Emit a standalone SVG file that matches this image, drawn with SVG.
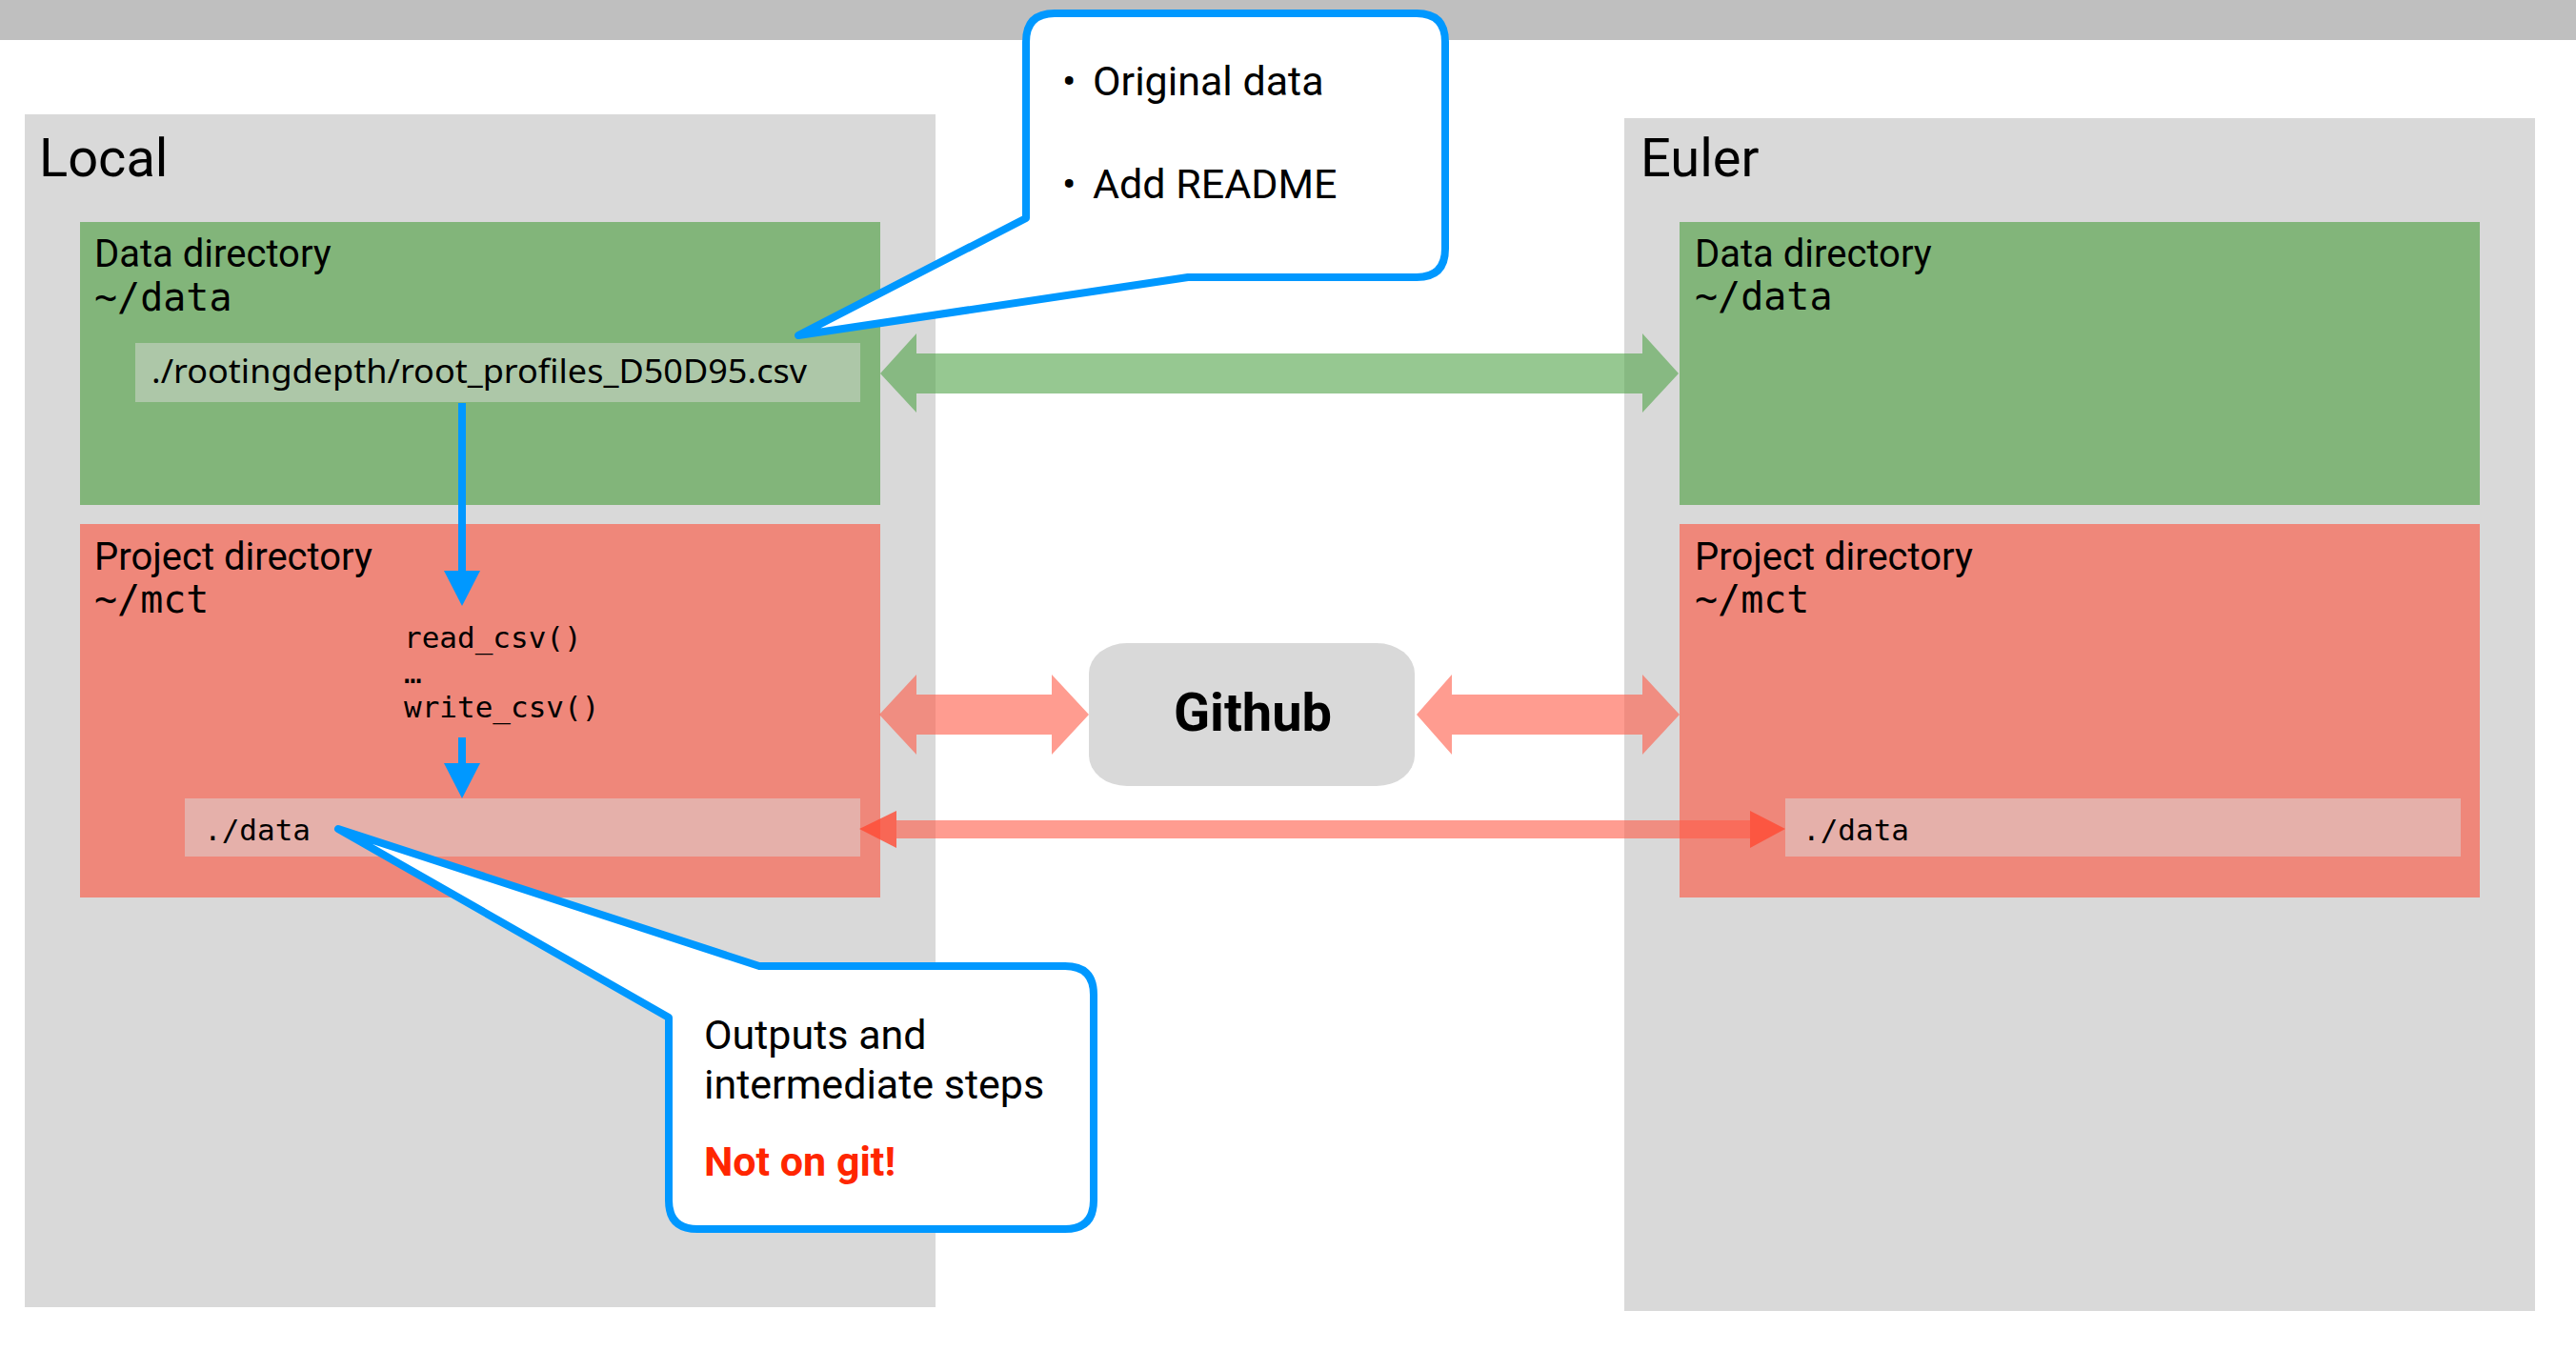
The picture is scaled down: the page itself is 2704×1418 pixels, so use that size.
<svg xmlns="http://www.w3.org/2000/svg" width="2704" height="1418" viewBox="0 0 2704 1418">
<style>
.h1{font-family:Roboto,"Liberation Sans",sans-serif;font-size:56px;fill:#000}
.h2{font-family:Roboto,"Liberation Sans",sans-serif;font-size:40px;fill:#000}
.mono{font-family:"DejaVu Sans Mono","Liberation Mono",monospace;fill:#000}
.call{font-family:Roboto,"Liberation Sans",sans-serif;font-size:43px;fill:#000}
.gray{fill:#D9D9D9}
.green{fill:#82B57A}
.red{fill:#EF877A}
.blue{fill:#0098FF}
.bl{stroke:#0098FF;stroke-width:8;fill:none}
.callout{fill:#fff;stroke:#0098FF;stroke-width:8;stroke-linejoin:round}
.garrow{fill:#50A348;opacity:0.6}
.rarrow{fill:#FF5A46;opacity:0.6}
</style>
<rect x="0" y="0" width="2704" height="1418" fill="#fff"/>
<rect x="0" y="0" width="2704" height="42" fill="#BFBFBF"/>

<g id="local">
<rect class="gray" x="26" y="120" width="956" height="1252"/>
<text class="h1" x="41" y="185">Local</text>
</g>
<g id="euler">
<rect class="gray" x="1705" y="124" width="956" height="1252"/>
<text class="h1" x="1722" y="185">Euler</text>
</g>

<g id="local-data">
<rect class="green" x="84" y="233" width="840" height="297"/>
<text class="h2" x="99" y="280">Data directory</text>
<text class="mono" x="99" y="326" font-size="40">~/data</text>
</g>
<g id="local-file">
<rect x="142" y="360" width="761" height="62" fill="#ADC7A8"/>
<text x="159" y="402" font-family="'Noto Sans','Open Sans',sans-serif" font-size="34" textLength="688" lengthAdjust="spacingAndGlyphs" fill="#000">./rootingdepth/root_profiles_D50D95.csv</text>
</g>
<g id="local-project">
<rect class="red" x="84" y="550" width="840" height="392"/>
<text class="h2" x="99" y="598">Project directory</text>
<text class="mono" x="99" y="643" font-size="40">~/mct</text>
<text class="mono" x="424" y="680" font-size="31">read_csv()</text>
<text class="mono" x="424" y="717" font-size="31">…</text>
<text class="mono" x="424" y="753" font-size="31">write_csv()</text>
</g>
<g id="local-outdata">
<rect x="194" y="838" width="709" height="61" fill="#E5B0AA"/>
<text class="mono" x="214" y="882" font-size="31">./data</text>
</g>

<g id="euler-data">
<rect class="green" x="1763" y="233" width="840" height="297"/>
<text class="h2" x="1779" y="280">Data directory</text>
<text class="mono" x="1779" y="325" font-size="40">~/data</text>
</g>
<g id="euler-project">
<rect class="red" x="1763" y="550" width="840" height="392"/>
<text class="h2" x="1779" y="598">Project directory</text>
<text class="mono" x="1779" y="643" font-size="40">~/mct</text>
</g>
<g id="euler-outdata">
<rect x="1874" y="838" width="709" height="61" fill="#E5B0AA"/>
<text class="mono" x="1892" y="882" font-size="31">./data</text>
</g>

<g id="github">
<rect class="gray" x="1143" y="675" width="342" height="150" rx="40" ry="32"/>
<text x="1315" y="767" text-anchor="middle" font-family="Roboto,'Liberation Sans',sans-serif" font-size="56" font-weight="bold" fill="#000">Github</text>
</g>

<g id="connectors">
<polygon class="garrow" points="924,392 962,350 962,371 1724,371 1724,350 1762,392 1724,433 1724,413 962,413 962,433"/>
<polygon class="rarrow" points="923,750 962,708 962,729 1104,729 1104,708 1143,750 1104,792 1104,771 962,771 962,792"/>
<polygon class="rarrow" points="1487,750 1524,708 1524,729 1724,729 1724,708 1763,750 1724,792 1724,771 1524,771 1524,792"/>
<polygon class="rarrow" points="941,861 1837,861 1837,880 941,880"/>
<polygon fill="#FF4A33" opacity="0.8" points="902,870 941,851 941,890"/>
<polygon fill="#FF4A33" opacity="0.8" points="1874,870 1837,851 1837,890"/>
<line class="bl" x1="485" y1="423" x2="485" y2="602"/>
<polygon class="blue" points="466,599 504,599 485,636"/>
<line class="bl" x1="485" y1="774" x2="485" y2="804"/>
<polygon class="blue" points="466,801 504,801 485,838"/>
</g>

<g id="callout-top">
<path class="callout" d="M1077,229 L1077,44 Q1077,14 1107,14 L1487,14 Q1517,14 1517,44 L1517,261 Q1517,291 1487,291 L1247,291 L838,352 Z"/>
<text class="call" x="1115" y="100">•</text>
<text class="call" x="1147" y="100">Original data</text>
<text class="call" x="1115" y="208">•</text>
<text class="call" x="1147" y="208">Add README</text>
</g>

<g id="callout-bottom">
<path class="callout" d="M797,1014 L1118,1014 Q1148,1014 1148,1044 L1148,1260 Q1148,1290 1118,1290 L732,1290 Q702,1290 702,1260 L702,1068 L355,870 Z"/>
<text class="call" x="739" y="1101">Outputs and</text>
<text class="call" x="739" y="1153">intermediate steps</text>
<text class="call" x="739" y="1234" font-weight="bold" fill="#FF2600" style="fill:#FF2600">Not on git!</text>
</g>
</svg>
